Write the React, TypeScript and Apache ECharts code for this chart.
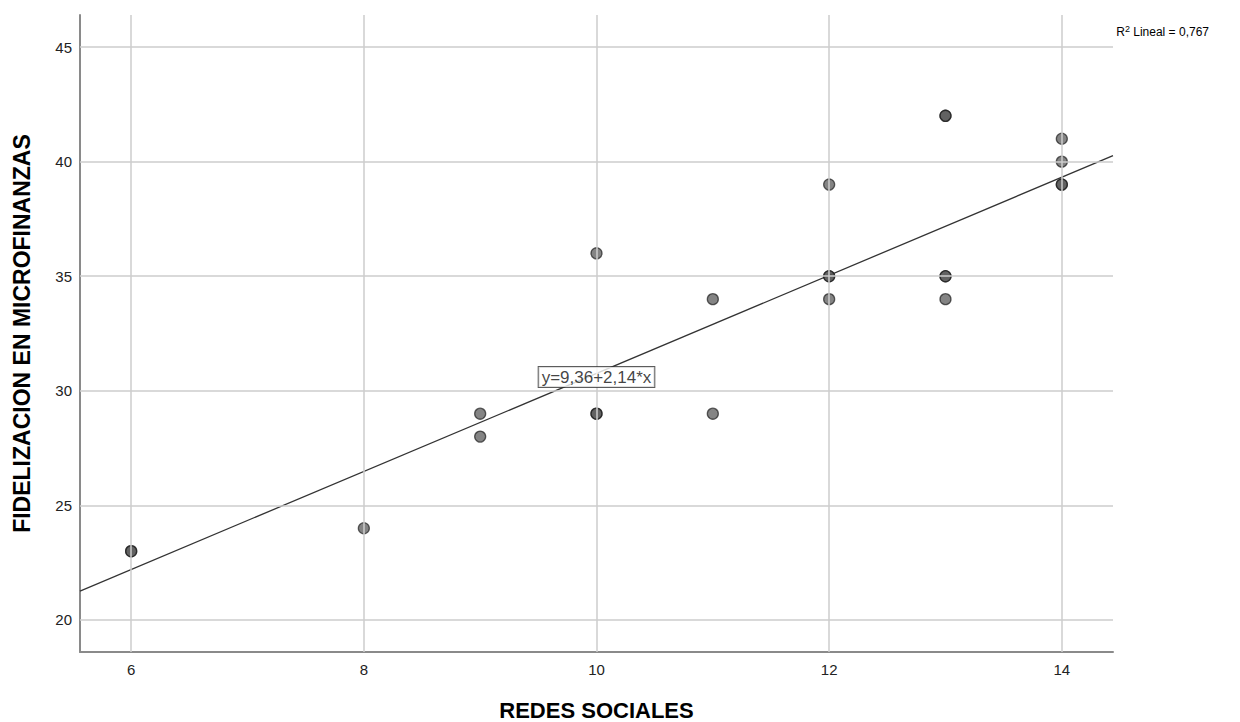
import React, { useEffect, useRef } from "react";
import * as echarts from "echarts";

const redesSociales = [6, 6, 8, 9, 9, 10, 10, 10, 11, 11, 12, 12, 12, 12, 13, 13, 13, 13, 13, 14, 14, 14, 14];
const fidelizacion = [23, 23, 24, 29, 28, 36, 29, 29, 34, 29, 39, 35, 35, 34, 42, 42, 35, 35, 34, 41, 40, 39, 39];
const fitIntercept = 9.36;
const fitSlope = 2.14;
const xTicks = [6, 8, 10, 12, 14];
const yTicks = [20, 25, 30, 35, 40, 45];
const xMin = 5.56;
const xMax = 14.44;
const yMin = 18.6;
const yMax = 46.4;
const equationLabel = "y=9,36+2,14*x";
const equationAnchor = [10, 30.6];
const r2Text = "0,767";

export default function App() {
  const ref = useRef<HTMLDivElement>(null);
  useEffect(() => {
    document.body.style.margin = "0";
    const chart = echarts.init(ref.current!, null, { renderer: "svg" });
    const points = redesSociales.map((x, i) => [x, fidelizacion[i]]);
    const fitLine = [xMin, xMax].map((x) => [x, fitIntercept + fitSlope * x]);
    const font = "'Liberation Sans', Arial, sans-serif";
    chart.setOption({
      animation: false,
      backgroundColor: "#ffffff",
      textStyle: { fontFamily: font },
      title: {
        text: "{a|R}{s|2}{a| Lineal = " + r2Text + "}",
        right: 26,
        top: 19,
        textStyle: {
          fontWeight: "normal",
          rich: {
            a: { fontSize: 12, color: "#000", fontFamily: font, fontWeight: "normal" },
            s: { fontSize: 9, color: "#000", fontFamily: font, fontWeight: "normal", verticalAlign: "top", padding: [0, 0, 6, 0] },
          },
        },
      },
      grid: { left: 80, right: 127, top: 15, bottom: 70, outerBoundsMode: "none" },
      xAxis: {
        type: "value",
        min: xMin,
        max: xMax,
        name: "REDES SOCIALES",
        nameLocation: "middle",
        nameGap: 47,
        nameTextStyle: { fontSize: 22, fontWeight: "bold", color: "#000", fontFamily: font, lineHeight: 22 },
        axisLine: { show: true, lineStyle: { color: "#8a8a8a", width: 2 } },
        axisTick: { show: false },
        axisLabel: {
          color: "#222",
          fontSize: 15,
          margin: 10,
          customValues: xTicks,
        },
        splitLine: { show: false },
      },
      yAxis: {
        type: "value",
        min: yMin,
        max: yMax,
        name: "FIDELIZACION EN MICROFINANZAS",
        nameLocation: "middle",
        nameGap: 47,
        nameRotate: 90,
        nameTextStyle: { fontSize: 23, fontWeight: "bold", color: "#000", fontFamily: font },
        axisLine: { show: true, lineStyle: { color: "#8a8a8a", width: 2 } },
        axisTick: { show: false },
        axisLabel: {
          color: "#222",
          fontSize: 15,
          margin: 8,
          customValues: yTicks,
        },
        splitLine: { show: false },
      },
      series: [
        {
          type: "line",
          data: [],
          silent: true,
          markLine: {
            silent: true,
            symbol: "none",
            label: { show: false },
            lineStyle: { color: "#cccccc", width: 1.5, type: "solid" },
            data: [
              ...xTicks.map((v) => ({ xAxis: v })),
              ...yTicks.map((v) => ({ yAxis: v })),
            ],
          },
        },
        {
          type: "line",
          data: fitLine,
          showSymbol: false,
          lineStyle: { color: "#333333", width: 1.3 },
          z: 3,
        },
        {
          type: "scatter",
          data: points,
          symbolSize: 11,
          itemStyle: {
            color: "rgba(85,85,85,0.9)",
            borderColor: "rgba(25,25,25,0.85)",
            borderWidth: 1.3,
          },
          z: 4,
        },
        {
          type: "scatter",
          data: [equationAnchor],
          symbolSize: 0,
          silent: true,
          z: 5,
          label: {
            show: true,
            position: "inside",
            formatter: equationLabel,
            fontSize: 17,
            color: "#111",
            backgroundColor: "#fff",
            borderColor: "#333",
            borderWidth: 1,
            padding: [2, 3, 1, 3],
            fontFamily: font,
          },
        },
      ],
    });
    return () => chart.dispose();
  }, []);
  return <div ref={ref} style={{ width: 1240, height: 722 }} />;
}
